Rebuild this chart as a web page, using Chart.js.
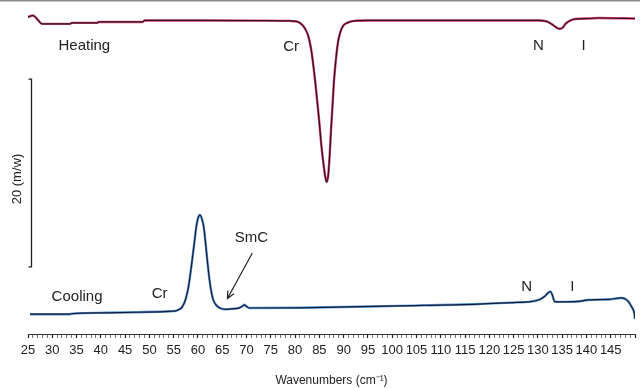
<!DOCTYPE html>
<html>
<head>
<meta charset="utf-8">
<script src="https://cdn.jsdelivr.net/npm/chart.js@4"></script>
<style>
  html, body { margin: 0; padding: 0; background: #fff; }
  #wrap { width: 640px; height: 388px; position: relative; }
</style>
</head>
<body>
<div id="wrap"><canvas id="chart"></canvas></div>
<script>
// wavenumber positions (cm-1) and signal heights (arb. units, 20 = scale bar)
const heatX = [25, 26.03, 27.05, 27.87, 33.62, 34.03, 39.17, 39.58, 48.61, 49.02, 60.32, 72.64,
  78.8, 80.24, 80.85, 81.47, 82.08, 82.7, 83.32, 83.73, 84.14, 84.55, 84.96, 85.37, 85.78, 86.19,
  86.5, 86.81, 87.11, 87.42, 87.73, 88.04, 88.45, 88.86, 89.27, 89.89, 90.71, 92.14, 95.22,
  107.55, 121.92, 130.13, 131.78, 132.8, 133.62, 134.44, 135.06, 135.68, 136.5, 137.73, 140.4,
  142.45, 150];
const heatY = [33.79, 33.95, 33.47, 33.05, 33.05, 33.16, 33.16, 33.26, 33.26, 33.42, 33.42, 33.4,
  33.37, 33.32, 33.21, 32.95, 32.53, 31.79, 30.32, 28.74, 26.95, 24.84, 22.74, 20.32, 18.42, 16.84,
  16.21, 16.84, 18.95, 21.89, 24.53, 27.16, 29.47, 31.16, 32.11, 32.84, 33.16, 33.37, 33.42,
  33.42, 33.42, 33.42, 33.32, 33.05, 32.74, 32.53, 32.63, 33.05, 33.37, 33.58, 33.63,
  33.68, 33.63];

const coolX = [25.41, 33.62, 34.03, 40.81, 47.38, 54.16, 55.39, 56.21, 56.83, 57.44, 58.06, 58.68,
  59.29, 59.7, 60.11, 60.42, 60.73, 61.14, 61.55, 61.96, 62.37, 62.78, 63.19, 63.81, 64.63, 65.86,
  67.09, 68.53, 69.15, 69.56, 69.97, 70.59, 80.85, 101.39, 117.81, 125.62, 128.08, 130.13, 131.36,
  132.19, 132.6, 133.01, 133.42, 134.04, 138.35, 140.4, 144.51, 147.18, 148, 148.62, 149.24,
  149.86, 150];
const coolY = [2.11, 2.11, 2.16, 2.26, 2.32, 2.42, 2.47, 2.63, 2.95, 3.68, 5.05, 7.37,
  9.89, 11.58, 12.5, 12.7, 12.4, 11.58, 9.79, 7.68, 5.79, 4.42, 3.58, 3.05, 2.74, 2.63,
  2.68, 2.79, 2.95, 3.11, 2.95, 2.77, 2.79, 3.0, 3.19, 3.37, 3.42, 3.63, 4.0,
  4.42, 4.53, 4.11, 3.47, 3.42, 3.47, 3.63, 3.68, 3.84, 3.74, 3.47, 2.95,
  2.21, 1.6];

// transition labels: text, wavenumber, height
const noteText = ["Heating", "Cr", "N", "I", "Cooling", "Cr", "SmC", "N", "I"];
const noteX = [36.6, 79.2, 130.1, 139.4, 35.1, 52.1, 71.0, 127.7, 137.1];
const noteY = [30.74, 30.6, 30.7, 30.7, 4.0, 4.32, 10.3, 5.05, 5.05];

// arrow to the SmC transition: [x0, y0, x1, y1]
const smcArrow = [71.2, 8.63, 66.07, 3.79];

// vertical scale bar
const barBottom = 7.16;
const barSize = 20;
const barLabel = "20 (m/w)";

const xTicksMin = 25;
const xTicksMax = 150;

function pts(xs, ys) {
  return xs.map((x, i) => ({ x: x, y: ys[i] }));
}

const decor = {
  id: "decor",
  afterDatasetsDraw(chart) {
    const { ctx, chartArea, scales } = chart;
    const xs = scales.x, ys = scales.y;
    ctx.save();

    // frame line at top
    ctx.strokeStyle = "#8a8a8a";
    ctx.lineWidth = 1.5;
    ctx.beginPath();
    ctx.moveTo(0, 0.75);
    ctx.lineTo(chart.width, 0.75);
    ctx.stroke();

    // scale bar
    const bx = chartArea.left + 3.5;
    const y0 = ys.getPixelForValue(barBottom);
    const y1 = ys.getPixelForValue(barBottom + barSize);
    ctx.strokeStyle = "#222";
    ctx.lineWidth = 1.3;
    ctx.beginPath();
    ctx.moveTo(bx - 3, y1);
    ctx.lineTo(bx, y1);
    ctx.lineTo(bx, y0);
    ctx.lineTo(bx - 3, y0);
    ctx.stroke();

    ctx.fillStyle = "#222";
    ctx.font = "13px 'Liberation Sans', Arial, sans-serif";
    ctx.textAlign = "center";
    ctx.textBaseline = "middle";
    ctx.save();
    ctx.translate(bx - 14, (y0 + y1) / 2 + 6);
    ctx.rotate(-Math.PI / 2);
    ctx.fillText(barLabel, 0, 0);
    ctx.restore();

    // labels
    ctx.font = "15px 'Liberation Sans', Arial, sans-serif";
    noteText.forEach((t, i) => {
      ctx.fillText(t, xs.getPixelForValue(noteX[i]), ys.getPixelForValue(noteY[i]));
    });

    // arrow
    const ax0 = xs.getPixelForValue(smcArrow[0]), ay0 = ys.getPixelForValue(smcArrow[1]);
    const ax1 = xs.getPixelForValue(smcArrow[2]), ay1 = ys.getPixelForValue(smcArrow[3]);
    const ang = Math.atan2(ay1 - ay0, ax1 - ax0);
    ctx.strokeStyle = "#222";
    ctx.lineWidth = 1.2;
    ctx.beginPath();
    ctx.moveTo(ax0, ay0);
    ctx.lineTo(ax1, ay1);
    ctx.moveTo(ax1 - 8 * Math.cos(ang - 0.45), ay1 - 8 * Math.sin(ang - 0.45));
    ctx.lineTo(ax1, ay1);
    ctx.lineTo(ax1 - 8 * Math.cos(ang + 0.45), ay1 - 8 * Math.sin(ang + 0.45));
    ctx.stroke();

    ctx.restore();
  },
};

const lineBase = {
  pointRadius: 0,
  fill: false,
  cubicInterpolationMode: "monotone",
};

// first dataset is painted last, so the dark traces go first
new Chart(document.getElementById("chart"), {
  type: "line",
  data: {
    datasets: [
      { ...lineBase, label: "Heating", data: pts(heatX, heatY), borderColor: "#2a1420", borderWidth: 1.2 },
      { ...lineBase, label: "Cooling", data: pts(coolX, coolY), borderColor: "#151a38", borderWidth: 1.2 },
      { ...lineBase, label: "Heating halo", data: pts(heatX, heatY), borderColor: "#e0406e", borderWidth: 2.4 },
      { ...lineBase, label: "Cooling halo", data: pts(coolX, coolY), borderColor: "#5a9ad6", borderWidth: 2.4 },
    ],
  },
  options: {
    responsive: true,
    maintainAspectRatio: false,
    animation: false,
    layout: { padding: { left: 28, right: 3, top: 0, bottom: 0 } },
    plugins: { legend: { display: false }, tooltip: { enabled: false } },
    scales: {
      x: {
        type: "linear",
        min: xTicksMin,
        max: xTicksMax,
        border: { display: true, color: "#333", width: 1 },
        grid: {
          drawOnChartArea: false,
          drawTicks: true,
          tickLength: 4,
          tickColor: (c) => (c.tick && c.tick.value % 5 === 0 ? "#222" : "#555"),
          tickWidth: (c) => (c.tick && c.tick.value % 5 === 0 ? 1.2 : 0.8),
        },
        ticks: {
          stepSize: 1,
          autoSkip: false,
          maxRotation: 0,
          minRotation: 0,
          padding: 5,
          color: "#222",
          font: { family: "'Liberation Sans', Arial, sans-serif", size: 13 },
          callback: (v) => (v % 5 === 0 && v < 150 ? String(v) : ""),
        },
        title: {
          display: true,
          text: "Wavenumbers (cm\u207B\u00B9)",
          color: "#222",
          font: { family: "'Liberation Sans', Arial, sans-serif", size: 12 },
          padding: { top: 10, bottom: 0 },
        },
      },
      y: {
        display: false,
        min: 0,
        max: 35.6,
      },
    },
  },
  plugins: [decor],
});
</script>
</body>
</html>
